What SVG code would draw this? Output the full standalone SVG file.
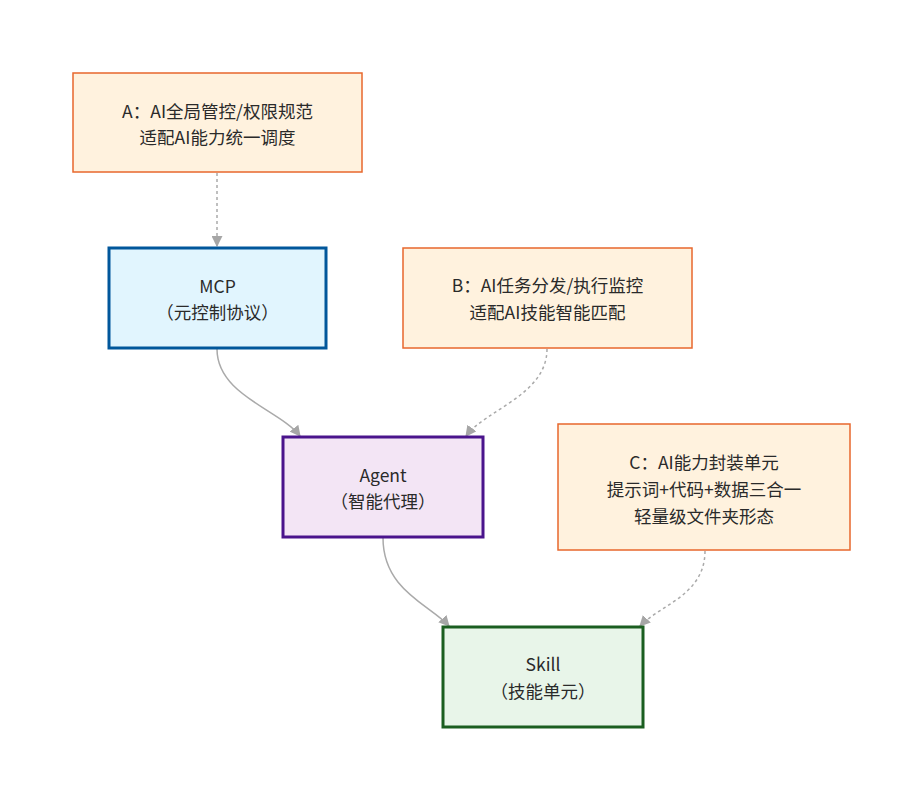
<svg xmlns="http://www.w3.org/2000/svg" width="923" height="800" viewBox="0 0 923 800">
<defs>
<style>
text{font-family:"Noto Sans CJK SC","Noto Sans",sans-serif;font-size:17.5px;fill:#2a2a2a;text-anchor:middle;dominant-baseline:central}
.note{fill:#fff2de;stroke:#e8672d;stroke-width:1.5}
.mcp{fill:#e1f5fe;stroke:#01579b;stroke-width:3}
.agent{fill:#f3e5f5;stroke:#4a148c;stroke-width:3}
.skill{fill:#e8f5e9;stroke:#1b5e20;stroke-width:3}
.solid{fill:none;stroke:#aaa;stroke-width:1.5}
.dot{fill:none;stroke:#aaa;stroke-width:1.5;stroke-dasharray:3 3}
</style>
<marker id="arr" viewBox="0 0 10 10" refX="9" refY="5" markerWidth="11" markerHeight="11" orient="auto" markerUnits="userSpaceOnUse">
<path d="M0,0 L10,5 L0,10 z" fill="#a6a6a6"/>
</marker>
</defs>
<rect width="923" height="800" fill="#fff"/>
<g id="connectors">
<path class="dot" d="M217,173 L217,246" marker-end="url(#arr)"/>
<path class="solid" d="M217,349 C217,395 280,410 300,436" marker-end="url(#arr)"/>
<path class="dot" d="M547,349 C547,395 485,410 466,436" marker-end="url(#arr)"/>
<path class="solid" d="M383,538 C383,590 430,605 449,626" marker-end="url(#arr)"/>
<path class="dot" d="M705,551 C705,595 660,605 640,626" marker-end="url(#arr)"/>
</g>
<g id="A">
<rect class="note" x="73" y="73" width="289" height="99"/>
<text x="217.5" y="110">A：AI全局管控/权限规范</text>
<text x="217.5" y="136">适配AI能力统一调度</text>
</g>
<g id="MCP">
<rect class="mcp" x="109" y="248" width="217" height="100"/>
<text x="217.5" y="285">MCP</text>
<text x="217.5" y="311">（元控制协议）</text>
</g>
<g id="B">
<rect class="note" x="403" y="248" width="289" height="100"/>
<text x="547.5" y="284">B：AI任务分发/执行监控</text>
<text x="547.5" y="311">适配AI技能智能匹配</text>
</g>
<g id="Agent">
<rect class="agent" x="283" y="437" width="200" height="100"/>
<text x="383" y="474">Agent</text>
<text x="383" y="500">（智能代理）</text>
</g>
<g id="C">
<rect class="note" x="558" y="424" width="292" height="126"/>
<text x="704" y="461">C：AI能力封装单元</text>
<text x="704" y="488">提示词+代码+数据三合一</text>
<text x="704" y="515">轻量级文件夹形态</text>
</g>
<g id="Skill">
<rect class="skill" x="443" y="627" width="200" height="100"/>
<text x="543" y="663">Skill</text>
<text x="543" y="690">（技能单元）</text>
</g>
</svg>
